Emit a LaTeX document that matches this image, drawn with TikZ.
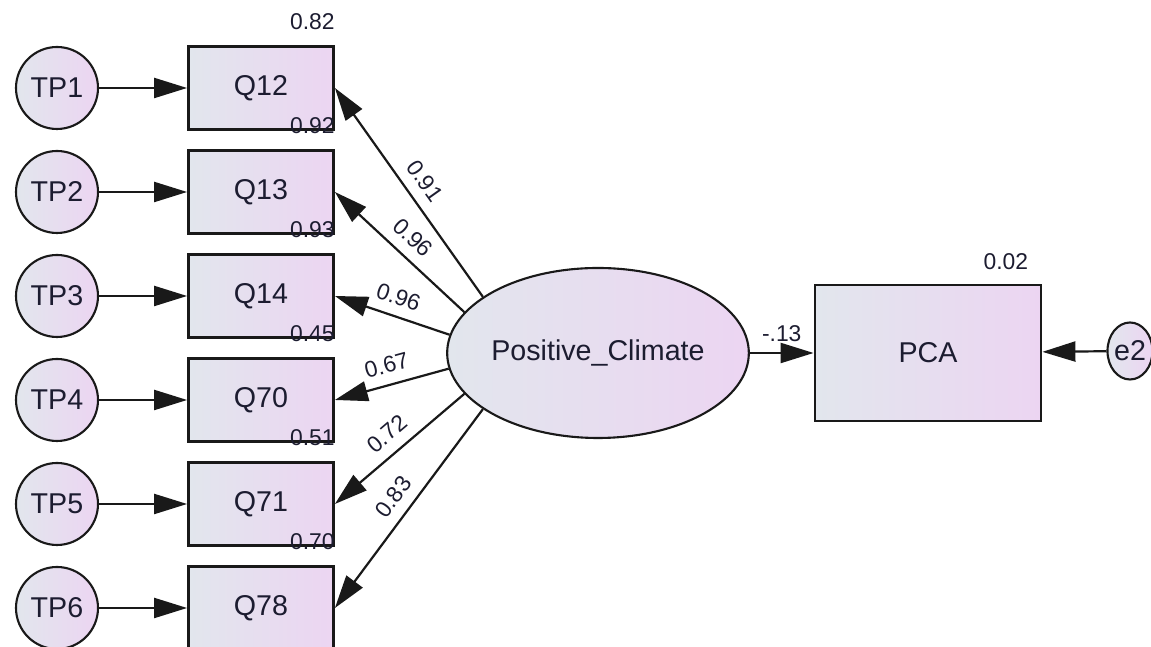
\documentclass[tikz,border=0pt]{standalone}
\usepackage{fontspec}
\setmainfont{Liberation Sans}
\usepackage{tikz}
\usetikzlibrary{arrows.meta, positioning, shapes.geometric}
\definecolor{shadeLeft}{RGB}{226,230,237}
\definecolor{shadeRight}{RGB}{236,213,242}
\definecolor{textNavy}{RGB}{28,28,48}
\definecolor{lineBlack}{gray}{0.1}

\begin{document}
\begin{tikzpicture}[>={Triangle[length=0.66cm, width=0.4cm]},
    observed/.style={draw=lineBlack, line width=1.6pt, left color=shadeLeft, right color=shadeRight, minimum width=2.9cm, minimum height=1.66cm, inner sep=0, text=textNavy, font=\fontsize{16.3}{19}\selectfont},
    errvar/.style={circle, draw=lineBlack, line width=1.2pt, left color=shadeLeft, right color=shadeRight, minimum size=1.64cm, inner sep=0, text=textNavy, font=\fontsize{16.3}{19}\selectfont},
    latent/.style={ellipse, draw=lineBlack, line width=1.2pt, left color=shadeLeft, right color=shadeRight, minimum width=5.8cm, minimum height=3.4cm, inner sep=0, text=textNavy, font=\fontsize{16.3}{19}\selectfont},
    loadline/.style={->, line width=1.25pt, lineBlack},
    coef/.style={font=\fontsize{13}{15}\selectfont, text=textNavy, inner sep=1pt}]
    \useasboundingbox (0,0) rectangle (23.02,12.94);

    % Indicators with their variances
    \foreach \i/\q/\r/\y in {1/12/0.82/11.18, 2/13/0.92/9.10, 3/14/0.93/7.02, 4/70/0.45/4.94, 5/71/0.51/2.86, 6/78/0.70/0.78} {
        \node[errvar] (tp\i) at (1.14,\y) {TP\i};
        \node[observed] (q\i) at (5.22,\y) {Q\q};
        \node[coef, anchor=south east, inner sep=0] (r\i) at ([yshift=0.3cm]q\i.north east) {\r};
        \draw[loadline] (tp\i) -- (q\i);
    }

    % Latent factor and loadings
    \node[latent] (pc) at (11.96,5.88) {Positive\_Climate};
    \foreach \i/\a/\l in {1/154/0.91, 2/163/0.96, 3/173/0.96, 4/186/0.67, 5/197/0.72, 6/206/0.83}
        \draw[loadline] (pc.\a) -- (q\i.east) node[coef, midway, sloped, above=5pt] {\l};

    % Outcome
    \node[observed, minimum width=4.52cm, minimum height=2.72cm] (pca) at (18.56,5.88) {PCA};
    \node[coef, anchor=south east, inner sep=0] (rpca) at ([xshift=-0.28cm, yshift=0.28cm]pca.north east) {0.02};
    \node[latent, minimum width=0.8cm, minimum height=1.14cm] (e2) at (22.6,5.92) {e2};
    \draw[loadline] (pc) -- (pca) node[coef, midway, above=5pt] {-.13};
    \draw[loadline] (e2) -- (pca);
\end{tikzpicture}
\end{document}
